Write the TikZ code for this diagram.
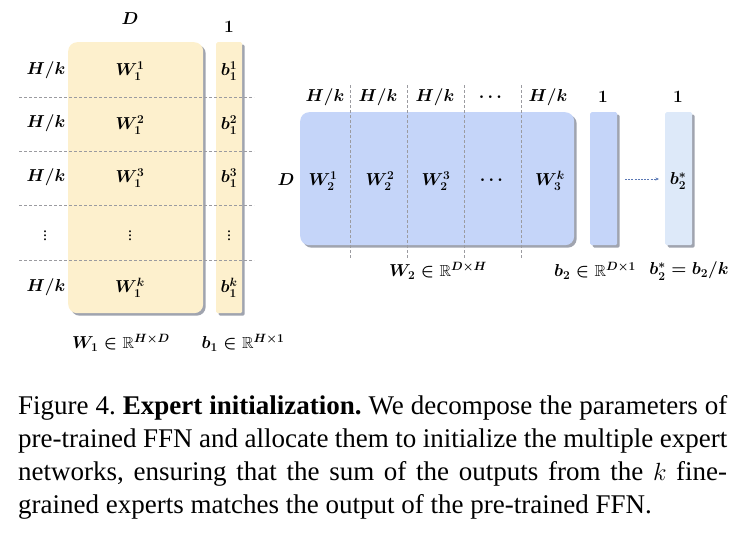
\documentclass[tikz,border=0pt]{standalone}
\usepackage{amsmath,amssymb}
\usepackage{fontspec}
\setmainfont{Liberation Serif}
\usetikzlibrary{shadows,arrows.meta}
\DeclareMathSizes{16}{16}{12}{9}
\DeclareMathSizes{19}{19}{13}{10}
\definecolor{ylw}{RGB}{253,240,205}
\definecolor{blu}{RGB}{197,213,249}
\definecolor{lblu}{RGB}{221,233,249}
\definecolor{shd}{RGB}{160,164,175}
\definecolor{dgray}{RGB}{155,155,160}
\definecolor{arr}{RGB}{90,120,180}
\begin{document}
\begin{tikzpicture}[x=1pt,y=-1pt,
  lbl/.style={font=\fontsize{16}{18}\selectfont\boldmath, inner sep=0pt},
  onelbl/.style={font=\fontsize{19}{21}\selectfont\boldmath, inner sep=0pt},
  matbox/.style={rectangle, draw=none, inner sep=0pt, anchor=north west,
    drop shadow={shadow xshift=2.5pt,shadow yshift=-2.5pt,fill=shd,opacity=1}},
  sep/.style={draw=dgray, line width=0.6pt, dash pattern=on 3pt off 2pt},
  captext/.style={font=\fontsize{27}{33}\selectfont\frenchspacing, inner sep=0pt, anchor=base west}]
\useasboundingbox (0,0) rectangle (746,538);
% ---------- left: W1 and b1
\node[matbox, fill=ylw, rounded corners=9pt, minimum width=135pt, minimum height=271pt] (w1) at (68,42) {};
\node[matbox, fill=ylw, rounded corners=1.5pt, minimum width=26pt, minimum height=271pt] (b1) at (216,42) {};
\coordinate (hl1a) at (19,97);  \coordinate (hl1b) at (254,97);
\coordinate (hl2a) at (19,151); \coordinate (hl2b) at (254,151);
\coordinate (hl3a) at (19,205); \coordinate (hl3b) at (254,205);
\coordinate (hl4a) at (19,260); \coordinate (hl4b) at (254,260);
\draw[sep] (hl1a) -- (hl1b);
\draw[sep] (hl2a) -- (hl2b);
\draw[sep] (hl3a) -- (hl3b);
\draw[sep] (hl4a) -- (hl4b);
\node[lbl] (lD) at (130,19) {$D$};
\node[onelbl] (lone1) at (229,27) {$1$};
\node[lbl] (r1) at (46,70) {$H/k$};
\node[lbl] (r2) at (46,123) {$H/k$};
\node[lbl] (r3) at (46,177) {$H/k$};
\node[lbl] (r4) at (45,233) {$\vdots$};
\node[lbl] (r5) at (46,287) {$H/k$};
\node[lbl] (w11) at (130,71) {$W_1^1$};
\node[lbl] (w12) at (130,125) {$W_1^2$};
\node[lbl] (w13) at (130,178) {$W_1^3$};
\node[lbl] (w14) at (130,233) {$\vdots$};
\node[lbl] (w15) at (130,288) {$W_1^k$};
\node[lbl] (b11) at (229,71) {$b_1^1$};
\node[lbl] (b12) at (229,125) {$b_1^2$};
\node[lbl] (b13) at (229,178) {$b_1^3$};
\node[lbl] (b14) at (229,233) {$\vdots$};
\node[lbl] (b15) at (229,288) {$b_1^k$};
\node[lbl] (lw1) at (121,343) {$W_1\in\mathbb{R}^{H\times D}$};
\node[lbl] (lb1) at (243,343) {$b_1\in\mathbb{R}^{H\times 1}$};
% ---------- right: W2, b2, b2*
\node[matbox, fill=blu, rounded corners=9pt, minimum width=274pt, minimum height=133pt] (w2) at (300,112) {};
\node[matbox, fill=blu, rounded corners=1.5pt, minimum width=27pt, minimum height=133pt] (b2) at (590,112) {};
\node[matbox, fill=lblu, rounded corners=1.5pt, minimum width=27pt, minimum height=133pt] (b2s) at (665,112) {};
\coordinate (vl1a) at (350,85); \coordinate (vl1b) at (350,258);
\coordinate (vl2a) at (407,85); \coordinate (vl2b) at (407,258);
\coordinate (vl3a) at (464,85); \coordinate (vl3b) at (464,258);
\coordinate (vl4a) at (521,85); \coordinate (vl4b) at (521,258);
\draw[sep] (vl1a) -- (vl1b);
\draw[sep] (vl2a) -- (vl2b);
\draw[sep] (vl3a) -- (vl3b);
\draw[sep] (vl4a) -- (vl4b);
\node[lbl] (c1) at (325,97) {$H/k$};
\node[lbl] (c2) at (378,97) {$H/k$};
\node[lbl] (c3) at (435,97) {$H/k$};
\node[lbl] (c4) at (492,97) {$\cdots$};
\node[lbl] (c5) at (548,97) {$H/k$};
\node[onelbl] (c6) at (603,97) {$1$};
\node[onelbl] (c7) at (678,97) {$1$};
\node[lbl] (lD2) at (286,180) {$D$};
\node[lbl] (w21) at (323,181) {$W_2^1$};
\node[lbl] (w22) at (380,181) {$W_2^2$};
\node[lbl] (w23) at (436,181) {$W_2^3$};
\node[lbl] (w24) at (493,180) {$\cdots$};
\node[lbl] (w25) at (550,181) {$W_3^k$};
\node[lbl] (b2l) at (678,181) {$b_2^*$};
\coordinate (ar1) at (625,179);
\coordinate (ar2) at (659,179);
\draw[arr, line width=0.6pt, dash pattern=on 2pt off 1.2pt, -{Stealth[length=3.5pt,width=3pt]}] (ar1) -- (ar2);
\node[lbl] (lw2) at (438,271) {$W_2\in\mathbb{R}^{D\times H}$};
\node[lbl] (lb2) at (595,271) {$b_2\in\mathbb{R}^{D\times 1}$};
\node[lbl] (lb2s) at (689,271) {$b_2^*=b_2/k$};
% ---------- caption
\node[captext] (cap1) at (18,414) {\makebox[709pt][s]{Figure 4. \textbf{Expert initialization.} We decompose the parameters of}};
\node[captext] (cap2) at (18,447) {\makebox[709pt][s]{pre-trained FFN and allocate them to initialize the multiple expert}};
\node[captext] (cap3) at (18,480) {\makebox[709pt][s]{networks, ensuring that the sum of the outputs from the $k$ fine-}};
\node[captext] (cap4) at (18,513) {grained experts matches the output of the pre-trained FFN.};
\end{tikzpicture}
\end{document}
